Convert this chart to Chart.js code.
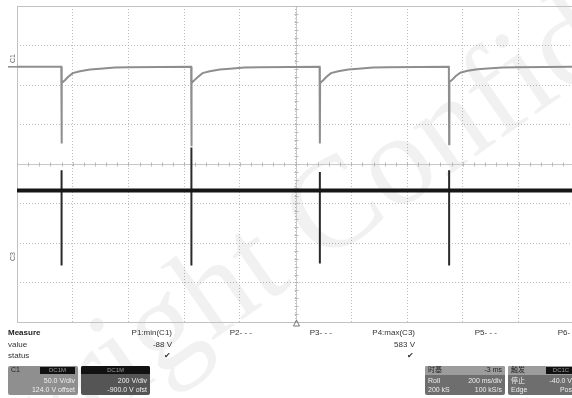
<!DOCTYPE html>
<html><head><meta charset="utf-8">
<script src="https://cdn.jsdelivr.net/npm/chart.js@4/dist/chart.umd.min.js"></script>
<style>
html,body{margin:0;padding:0;background:#fff;}
#wrap{position:relative;width:572px;height:398px;overflow:hidden;font-family:"Liberation Sans","Noto Sans CJK SC",Arial,sans-serif;}
#c{position:absolute;left:0;top:0;}
.t{position:absolute;font-size:8px;line-height:9px;color:#333;white-space:nowrap;}
.b{font-weight:bold;color:#222;}
.box{position:absolute;border-radius:2px;overflow:hidden;}
.box .t{color:#eee;font-size:7px;line-height:8px;}
.lbl{position:absolute;background:#111;color:#999;font-size:6px;line-height:7px;text-align:center;}
.rot{position:absolute;font-size:7px;color:#666;transform:rotate(-90deg);transform-origin:center;}
</style></head><body>
<div id="wrap">
<canvas id="c" width="572" height="398"></canvas>
<div id="panel"></div>
</div>
<script>
// ---- data (time in ms, amplitude in divisions) ----
const timeTicks = [-1000,-800,-600,-400,-200,0,200,400,600,800];
const divTicks  = [-4,-3,-2,-1,0,1,2,3,4];

// Channel C1 (grey) trace samples
const c1Time = [-1000,-841,-840,-839,-828,-817,-800,-774,-738,-702,-649,-595,-375,
                -374,-373,-362,-351,-334,-308,-272,-236,-183,-129,86,
                87,88,99,110,127,153,189,225,278,332,550,
                551,552,563,574,591,617,653,689,742,796,992];
const c1Volt = [2.46,2.46,0.52,2.05,2.12,2.20,2.30,2.35,2.39,2.41,2.44,2.45,2.46,
                0.45,2.05,2.13,2.20,2.30,2.35,2.39,2.41,2.44,2.45,2.46,
                0.52,2.05,2.12,2.20,2.30,2.35,2.39,2.41,2.44,2.45,2.46,
                0.50,2.08,2.14,2.22,2.31,2.36,2.40,2.42,2.44,2.45,2.46];

// Channel C3 (black) trace
const c3BaseTime = [-1000,992];
const c3BaseVolt = [-0.67,-0.67];
const pulseTime  = [-840,-374,87,551];
const c3SpikeTop = [-0.16,0.42,-0.20,-0.16];
const c3SpikeBottom = [-2.57,-2.57,-2.52,-2.57];

// Measurement panel texts
const measureNames  = ['P1:min(C1)','P2- - -','P3- - -','P4:max(C3)','P5- - -','P6- -'];
const measureValues = ['-88 V','','','583 V','',''];
const measureStatus = ['\u2714','','','\u2714','',''];

// ---- build datasets ----
const c1Data = c1Time.map((t,i)=>({x:t,y:c1Volt[i]}));
const c3Base = c3BaseTime.map((t,i)=>({x:t,y:c3BaseVolt[i]}));
const c3Spikes = [];
pulseTime.forEach((t,i)=>{
  c3Spikes.push({x:t,y:c3SpikeTop[i]},{x:t,y:c3SpikeBottom[i]},{x:t,y:null});
});

const scopePlugin = {
  id:'scope',
  beforeDatasetsDraw(chart){
    const {ctx, chartArea:a, scales:{x,y}} = chart;
    ctx.save();
    // watermark
    ctx.save();
    ctx.translate(-138,586);
    ctx.rotate(-35*Math.PI/180);
    ctx.font = '130px "Liberation Serif"';
    ctx.fillStyle = 'rgba(0,0,0,0.055)';
    ctx.fillText('Copyright Confidential',0,0);
    ctx.restore();
    // frame
    ctx.strokeStyle = '#c2c2c2';
    ctx.lineWidth = 1;
    ctx.beginPath();
    ctx.moveTo(a.right+1, a.top+0.5); ctx.lineTo(a.left+0.5, a.top+0.5);
    ctx.lineTo(a.left+0.5, a.bottom+0.5); ctx.lineTo(a.right+1, a.bottom+0.5);
    ctx.stroke();
    // center cross
    const x0 = Math.round(x.getPixelForValue(0))+0.5;
    const y0 = Math.round(y.getPixelForValue(0))+0.5;
    ctx.strokeStyle = '#c8c8c8';
    ctx.beginPath();
    ctx.moveTo(x0,a.top); ctx.lineTo(x0,a.bottom);
    ctx.moveTo(a.left,y0); ctx.lineTo(a.right,y0);
    ctx.stroke();
    ctx.strokeStyle = '#b8b8b8';
    ctx.beginPath();
    for(let v=-1000; v<=992; v+=40){
      const px = Math.round(x.getPixelForValue(v))+0.5;
      ctx.moveTo(px,y0-2); ctx.lineTo(px,y0+2);
    }
    for(let v=-4; v<=4.001; v+=0.2){
      const py = Math.round(y.getPixelForValue(v))+0.5;
      ctx.moveTo(x0-2,py); ctx.lineTo(x0+2,py);
    }
    ctx.stroke();
    // trigger marker at bottom
    ctx.strokeStyle = '#777';
    ctx.beginPath();
    ctx.moveTo(x0-3,a.bottom+4); ctx.lineTo(x0,a.bottom-2); ctx.lineTo(x0+3,a.bottom+4); ctx.closePath();
    ctx.stroke();
    // channel markers on the left
    ctx.strokeStyle = '#888';
    ctx.lineWidth = 1.5;
    const yc1 = y.getPixelForValue(2.46);
    ctx.beginPath(); ctx.moveTo(8,yc1); ctx.lineTo(a.left,yc1); ctx.stroke();
    ctx.restore();
  }
};

new Chart(document.getElementById('c'), {
  type:'scatter',
  data:{datasets:[
    {data:c1Data, showLine:true, borderColor:'#8e8e8e', borderWidth:2, pointRadius:0, tension:0},
    {data:c3Base, showLine:true, borderColor:'#161616', borderWidth:4, pointRadius:0},
    {data:c3Spikes, showLine:true, spanGaps:false, borderColor:'#2a2a2a', borderWidth:2, pointRadius:0}
  ]},
  options:{
    responsive:false, animation:false, devicePixelRatio:1,
    layout:{padding:{left:17,top:6,right:0,bottom:76}},
    plugins:{legend:{display:false}, tooltip:{enabled:false}},
    scales:{
      x:{type:'linear', min:-1000, max:992,
         afterBuildTicks:s=>{s.ticks=timeTicks.map(v=>({value:v}));},
         ticks:{display:false}, border:{display:false, dash:[1,2]},
         grid:{color:'#bdbdbd', lineWidth:1, drawTicks:false}},
      y:{type:'linear', min:-4, max:4,
         afterBuildTicks:s=>{s.ticks=divTicks.map(v=>({value:v}));},
         ticks:{display:false}, border:{display:false, dash:[1,2]},
         grid:{color:'#bdbdbd', lineWidth:1, drawTicks:false}}
    }
  },
  plugins:[scopePlugin]
});

// ---- measurement panel (HTML text) ----
const P = document.getElementById('panel');
function add(html){ P.insertAdjacentHTML('beforeend', html); }
add('<div class="t b" style="left:8px;top:328px">Measure</div>');
add('<div class="t" style="left:8px;top:340px">value</div>');
add('<div class="t" style="left:8px;top:351px">status</div>');
const colRight = [172, 252, 332, 415, 497, 575];
measureNames.forEach((n,i)=>{
  add(`<div class="t" style="right:${572-colRight[i]}px;top:328px">${n}</div>`);
  if(measureValues[i]) add(`<div class="t" style="right:${572-colRight[i]}px;top:340px">${measureValues[i]}</div>`);
  if(measureStatus[i]) add(`<div class="t" style="right:${572-colRight[i]+1}px;top:351px">${measureStatus[i]}</div>`);
});
add('<div class="rot" style="left:8px;top:55px">C1</div>');
add('<div class="rot" style="left:8px;top:253px">C3</div>');
// channel boxes
add(`<div class="box" style="left:8px;top:366px;width:70px;height:29px;background:#8f8f8f">
 <div class="t" style="left:3px;top:0px;color:#222">C1</div>
 <div class="lbl" style="left:32px;top:1px;width:35px;height:7px">DC1M</div>
 <div class="t" style="right:3px;top:11px">50.0 V/div</div>
 <div class="t" style="right:3px;top:20px">124.0 V offset</div></div>`);
add(`<div class="box" style="left:81px;top:366px;width:69px;height:29px;background:#555">
 <div class="lbl" style="left:0;top:0;width:69px;height:8px;line-height:8px">DC1M</div>
 <div class="t" style="right:3px;top:11px">200 V/div</div>
 <div class="t" style="right:3px;top:20px">-900.0 V ofst</div></div>`);
add(`<div class="box" style="left:425px;top:366px;width:80px;height:29px;background:#6e6e6e">
 <div style="position:absolute;left:0;top:0;width:80px;height:9px;background:#9c9c9c"></div>
 <div class="t" style="left:3px;top:0px;color:#222">时基</div>
 <div class="t" style="right:3px;top:0px;color:#222">-3 ms</div>
 <div class="t" style="left:3px;top:11px">Roll</div>
 <div class="t" style="right:3px;top:11px">200 ms/div</div>
 <div class="t" style="left:3px;top:20px">200 kS</div>
 <div class="t" style="right:3px;top:20px">100 kS/s</div></div>`);
add(`<div class="box" style="left:508px;top:366px;width:70px;height:29px;background:#6e6e6e">
 <div style="position:absolute;left:0;top:0;width:70px;height:9px;background:#9c9c9c"></div>
 <div class="t" style="left:3px;top:0px;color:#222">触发</div>
 <div class="lbl" style="left:38px;top:1px;width:30px;height:7px">DC1C</div>
 <div class="t" style="left:3px;top:11px">停止</div>
 <div class="t" style="right:6px;top:11px">-40.0 V</div>
 <div class="t" style="left:3px;top:20px">Edge</div>
 <div class="t" style="right:6px;top:20px">Pos</div></div>`);
</script>
</body></html>
